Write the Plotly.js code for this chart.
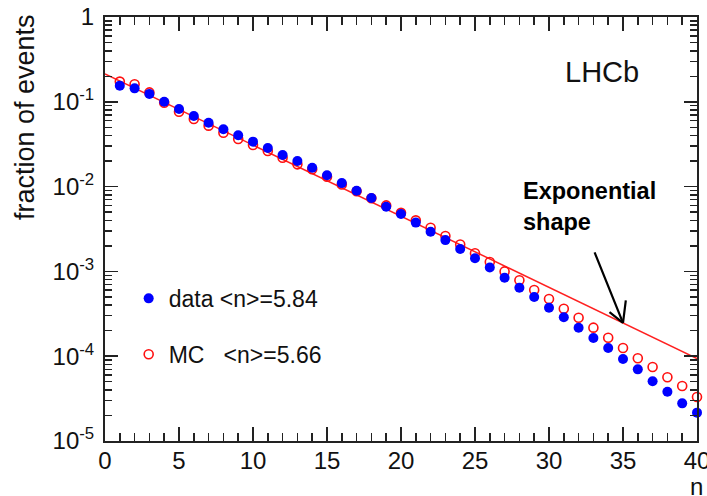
<!DOCTYPE html>
<html>
<head>
<meta charset="utf-8">
<script src="https://cdn.plot.ly/plotly-3.0.1.min.js"></script>
<style>html,body{margin:0;padding:0;background:#fff;}#chart{width:707px;height:496px;}</style>
</head>
<body>
<div id="chart"></div>
<script>
// ---- data ----
var nVals = [1,2,3,4,5,6,7,8,9,10,11,12,13,14,15,16,17,18,19,20,21,22,23,24,25,26,27,28,29,30,31,32,33,34,35,36,37,38,39,40];
var dataFrac = [0.155,0.144,0.124,0.100,0.0822,0.068,0.0567,0.0474,0.0403,0.0339,0.0285,0.0236,0.0200,0.0167,0.0136,0.0110,0.00895,0.00734,0.00579,0.00475,0.00376,0.00294,0.00234,0.00184,0.00143,0.00111,0.000843,0.000642,0.000499,0.000373,0.000288,0.000217,0.000164,0.000125,0.0000927,0.0000700,0.0000506,0.0000381,0.0000278,0.0000216];
var mcFrac = [0.173,0.161,0.129,0.0977,0.0764,0.0627,0.0523,0.0432,0.0364,0.0310,0.0263,0.0219,0.0183,0.0160,0.0131,0.0106,0.0088,0.0073,0.0060,0.0049,0.0040,0.00327,0.00261,0.00208,0.00164,0.00129,0.00100,0.000785,0.000604,0.000473,0.000363,0.000284,0.000217,0.000165,0.000125,0.0000944,0.0000746,0.0000564,0.0000446,0.0000330];
var fitN = [0, 40];
var fitFrac = [0.213, 0.000094];
var dataLabel = "data &lt;n&gt;=5.84";
var mcLabel = "MC   &lt;n&gt;=5.66";
var yTickVals = [1e-5, 1e-4, 1e-3, 1e-2, 1e-1, 1];
var yTickText = ["10<sup>-5</sup>", "10<sup>-4</sup>", "10<sup>-3</sup>", "10<sup>-2</sup>", "10<sup>-1</sup>", "1"];
var xTickVals = [0,5,10,15,20,25,30,35,40];
var arrowN = 35;

// ---- helpers ----
var FONT = "Liberation Sans, Arial, Helvetica, sans-serif";
var INK = "#111111";
var yMinor = [];
for (var d = -5; d < 0; d++) for (var k = 2; k <= 9; k++) yMinor.push(k * Math.pow(10, d));
// arrow head sits on the exponential line at n = arrowN
var l0 = Math.log10(fitFrac[0]), l1 = Math.log10(fitFrac[1]);
var headLog = l0 + (l1 - l0) * (arrowN - fitN[0]) / (fitN[1] - fitN[0]);

function arrowPart(ax, ay) {
  return {xref: 'x', yref: 'y', x: arrowN, y: headLog, ax: ax, ay: ay, text: '', showarrow: true,
          arrowhead: 0, arrowwidth: 2.2, arrowcolor: '#000', standoff: 0, startstandoff: 0};
}

var traces = [
  {x: fitN, y: fitFrac, mode: 'lines', line: {color: '#ff2020', width: 1.5}, showlegend: false, hoverinfo: 'skip'},
  {x: nVals, y: mcFrac, mode: 'markers', name: mcLabel, legendgroup: 'mc', legendrank: 2, cliponaxis: false,
   marker: {symbol: 'circle-open', size: 9, color: '#ff1010', line: {width: 1.6, color: '#ff1010'}}},
  {x: nVals, y: dataFrac, mode: 'markers', name: dataLabel, legendgroup: 'data', legendrank: 1, cliponaxis: false,
   marker: {symbol: 'circle', size: 10, color: '#0000ff'}}
];

var layout = {
  width: 707, height: 496,
  margin: {l: 105, r: 10, t: 17, b: 55, pad: 0},
  paper_bgcolor: '#fff', plot_bgcolor: '#fff',
  font: {family: FONT, color: INK, size: 22},
  showlegend: true,
  legend: {x: 0.04, y: 0.387, xanchor: 'left', yanchor: 'top', bgcolor: 'rgba(0,0,0,0)',
           font: {family: FONT, size: 23, color: INK}, tracegroupgap: 23, traceorder: 'grouped', itemwidth: 30},
  xaxis: {
    range: [0, 40], showgrid: false, zeroline: false,
    showline: true, linecolor: '#222', linewidth: 2, mirror: 'ticks',
    ticks: 'inside', ticklen: 14, tickwidth: 1.5, tickcolor: '#222',
    tickmode: 'array', tickvals: xTickVals, ticklabeloverflow: 'allow',
    tickfont: {family: FONT, size: 24, color: INK}, ticklabelstandoff: -3,
    minor: {dtick: 1, ticks: 'inside', ticklen: 8, tickwidth: 1.5, tickcolor: '#222', showgrid: false}
  },
  yaxis: {
    type: 'log', range: [-5, 0], showgrid: false, zeroline: false,
    showline: true, linecolor: '#222', linewidth: 2, mirror: 'ticks',
    ticks: 'inside', ticklen: 13, tickwidth: 1.5, tickcolor: '#222',
    tickmode: 'array', tickvals: yTickVals, ticktext: yTickText, ticklabeloverflow: 'allow',
    tickfont: {family: FONT, size: 24, color: INK}, ticklabelstandoff: 4,
    minor: {tickmode: 'array', tickvals: yMinor, ticks: 'inside', ticklen: 7, tickwidth: 1.5, tickcolor: '#222', showgrid: false}
  },
  annotations: [
    {xref: 'paper', yref: 'paper', x: -0.135, y: 1.012, xanchor: 'center', yanchor: 'top', textangle: -90,
     text: 'fraction of events', showarrow: false, font: {family: FONT, size: 27, color: INK}},
    {xref: 'paper', yref: 'paper', x: 1.014, y: -0.108, xanchor: 'right', yanchor: 'middle',
     text: 'n', showarrow: false, font: {family: FONT, size: 24, color: INK}},
    {xref: 'paper', yref: 'paper', x: 0.84, y: 0.87, xanchor: 'center', yanchor: 'middle',
     text: 'LHCb', showarrow: false, font: {family: FONT, size: 29, color: INK}},
    {xref: 'paper', yref: 'paper', x: 0.703, y: 0.552, xanchor: 'left', yanchor: 'middle', align: 'left',
     text: '<b>Exponential<br>shape</b>', showarrow: false, font: {family: FONT, size: 23.5, color: '#000'}},
    arrowPart(-29, -72),
    arrowPart(-15, -12),
    arrowPart(3, -24)
  ]
};

Plotly.newPlot('chart', traces, layout, {staticPlot: true, displayModeBar: false});
</script>
</body>
</html>
